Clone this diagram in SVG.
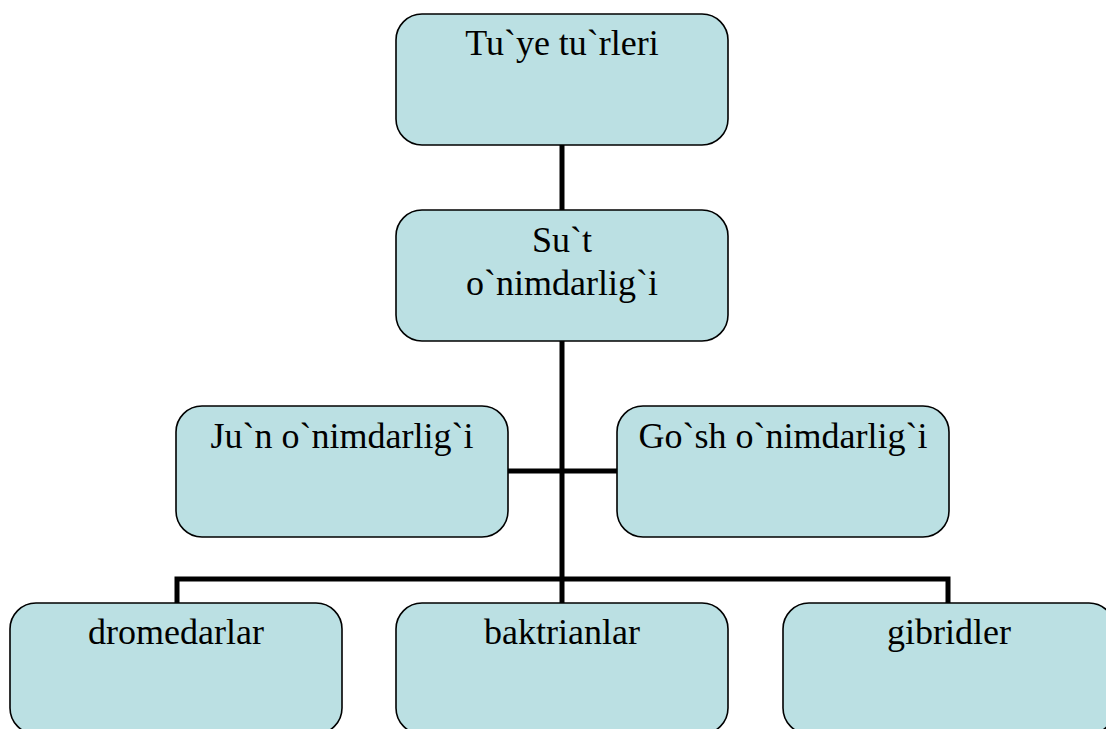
<svg xmlns="http://www.w3.org/2000/svg" width="1106" height="729" viewBox="0 0 1106 729">
<style>
.box{fill:#bbe0e3;stroke:#000;stroke-width:1.6}
.lbl{font-family:"Liberation Serif","Times New Roman",serif;font-size:36px;fill:#000;text-anchor:middle}
.con{stroke:#000;stroke-width:5;fill:none;stroke-linecap:butt}
</style>
<rect width="1106" height="729" fill="#fff"/>
<g id="connectors">
<line class="con" x1="562" y1="144" x2="562" y2="210"/>
<line class="con" x1="562" y1="341" x2="562" y2="603"/>
<line class="con" x1="508" y1="471" x2="617" y2="471"/>
<polyline class="con" points="177,603 177,579 948,579 948,603"/>
</g>
<g id="node-tuye">
<rect class="box" x="396" y="14" width="332" height="131" rx="26"/>
<text class="lbl" x="562" y="55">Tu`ye tu`rleri</text>
</g>
<g id="node-sut">
<rect class="box" x="396" y="210" width="332" height="131" rx="26"/>
<text class="lbl" x="562" y="252">Su`t</text>
<text class="lbl" x="562" y="295">o`nimdarlig`i</text>
</g>
<g id="node-jun">
<rect class="box" x="176" y="406" width="332" height="131" rx="26"/>
<text class="lbl" x="342" y="448">Ju`n o`nimdarlig`i</text>
</g>
<g id="node-gosh">
<rect class="box" x="617" y="406" width="332" height="131" rx="26"/>
<text class="lbl" x="783" y="448">Go`sh o`nimdarlig`i</text>
</g>
<g id="node-dromedarlar">
<rect class="box" x="10" y="603" width="332" height="131" rx="26"/>
<text class="lbl" x="176" y="644">dromedarlar</text>
</g>
<g id="node-baktrianlar">
<rect class="box" x="396" y="603" width="332" height="131" rx="26"/>
<text class="lbl" x="562" y="644">baktrianlar</text>
</g>
<g id="node-gibridler">
<rect class="box" x="783" y="603" width="332" height="131" rx="26"/>
<text class="lbl" x="949" y="644">gibridler</text>
</g>
</svg>
